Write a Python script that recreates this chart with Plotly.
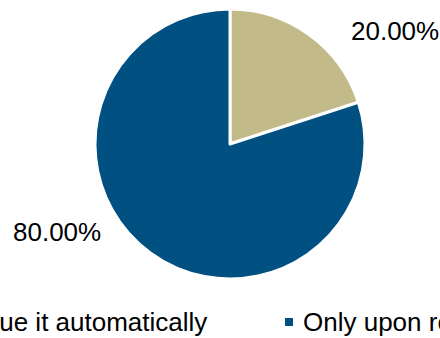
import plotly.graph_objects as go

labels = ["Issue it automatically", "Only upon request"]
values = [20, 80]
colors = ["#C2BA88", "#005082"]

W, H = 440, 338
FONT = "Liberation Sans, Arial, sans-serif"
FS = 26

fig = go.Figure(go.Pie(
    labels=labels,
    values=values,
    sort=False,
    direction="clockwise",
    rotation=0,
    marker=dict(colors=colors, line=dict(color="white", width=3)),
    textinfo="none",
    hoverinfo="label+percent",
    showlegend=False,
    domain=dict(x=[95 / W, 365 / W], y=[1 - 279 / H, 1 - 9 / H]),
))

total = sum(values)
pcts = [f"{v / total * 100:.2f}%" for v in values]
label_pos = [(394.5, 31), (56.5, 232)]
annotations = []
for txt, (px, py) in zip(pcts, label_pos):
    annotations.append(dict(text=txt, x=px / W, y=1 - py / H, xref="paper", yref="paper",
                            xanchor="center", yanchor="middle", showarrow=False,
                            font=dict(family=FONT, size=FS, color="#000000")))

# legend (cropped at edges, as in the reference)
leg_text_x = [-36, 301]
leg_y = 322
shapes = []
for name, col, tx in zip(labels, colors, leg_text_x):
    annotations.append(dict(text=name, x=tx / W, y=1 - leg_y / H, xref="paper", yref="paper",
                            xanchor="left", yanchor="middle", showarrow=False,
                            font=dict(family=FONT, size=FS, color="#000000")))
    shapes.append(dict(type="rect", xref="paper", yref="paper",
                       x0=(tx - 16) / W, x1=(tx - 8) / W,
                       y0=1 - (leg_y + 4) / H, y1=1 - (leg_y - 4) / H,
                       fillcolor=col, line=dict(width=0)))

fig.update_layout(
    width=W, height=H,
    margin=dict(l=0, r=0, t=0, b=0),
    paper_bgcolor="white", plot_bgcolor="white",
    annotations=annotations, shapes=shapes,
    font=dict(family=FONT),
)

fig.write_html("out.html",
               config={"displayModeBar": False},
               post_script="document.body.style.margin='0';document.body.style.overflow='hidden';")
